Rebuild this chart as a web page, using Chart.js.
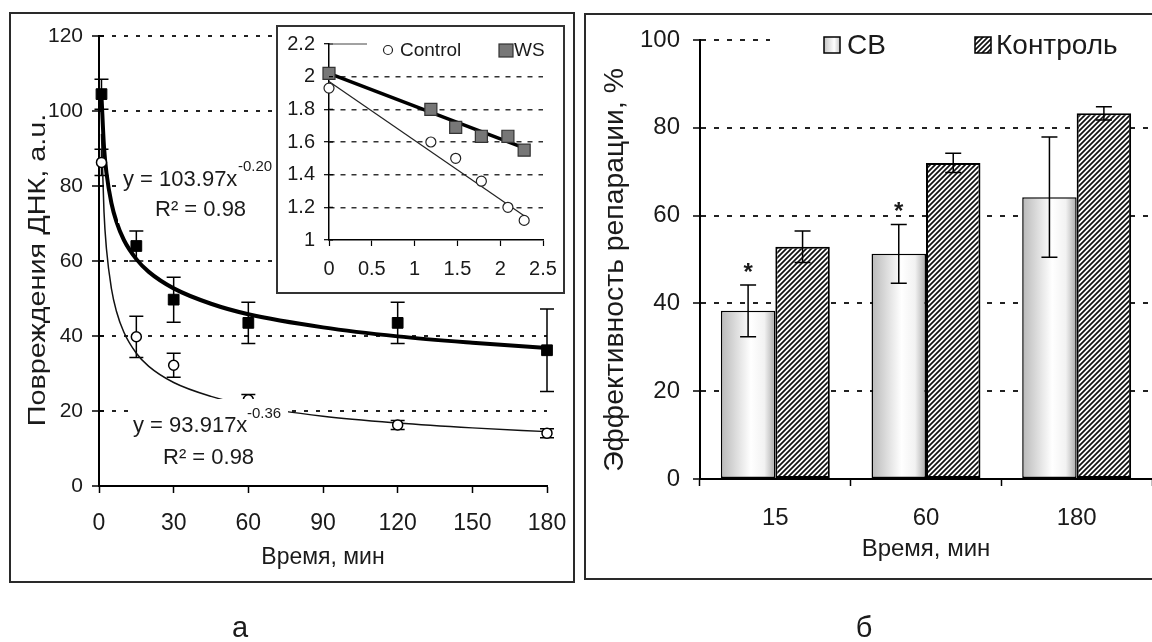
<!DOCTYPE html>
<html><head><meta charset="utf-8">
<script src="https://cdn.jsdelivr.net/npm/chart.js@4.4.1/dist/chart.umd.min.js"></script>
<style>
html,body{margin:0;padding:0;background:#fff;width:1152px;height:642px;overflow:hidden;font-family:'Liberation Sans',Arial,sans-serif;}
.abs{position:absolute;}
#frameA{left:9px;top:12px;width:566px;height:571px;border:2px solid #2a2a2a;box-sizing:border-box;}
#frameB{left:584px;top:13px;width:600px;height:567px;border:2px solid #2a2a2a;border-right:none;box-sizing:border-box;}
#cA{left:0;top:0;}
#cB{left:580px;top:0;}
#inset{left:276px;top:25px;width:289px;height:269px;border:2px solid #333;box-sizing:border-box;background:#fff;}
#cI{position:absolute;left:0;top:0;}
.plabel{font-size:29px;color:#1a1a1a;top:611px;width:40px;text-align:center;}
</style></head>
<body>
<div id="frameA" class="abs"></div>
<div id="frameB" class="abs"></div>
<canvas id="cA" class="abs" width="580" height="642"></canvas>
<canvas id="cB" class="abs" width="572" height="642"></canvas>
<div id="inset" class="abs"><canvas id="cI" width="285" height="265"></canvas></div>
<div class="abs plabel" style="left:220px;">а</div>
<div class="abs plabel" style="left:844px;">б</div>
<script>
// ---------- DATA ----------
// Panel a: DNA damage vs time
const timeMin = [1, 15, 30, 60, 120, 180];
const wsDamage = [104.5, 64.0, 49.7, 43.5, 43.5, 36.2];
const wsErr = [4.0, 4.0, 6.0, 5.5, 5.5, 11.0];
const ctrlDamage = [86.3, 39.8, 32.2, 23.0, 16.3, 14.1];
const ctrlErr = [3.5, 5.5, 3.2, 1.4, 1.2, 1.2];
// trend curves
const fitTime = [1, 2, 3, 5, 7, 10, 15, 20, 30, 45, 60, 90, 120, 150, 180];
const wsFit = [104.0, 90.5, 83.5, 75.4, 70.5, 65.6, 60.5, 57.1, 52.7, 48.6, 45.8, 42.3, 39.9, 38.2, 36.8];
const ctrlFit = [93.9, 73.2, 63.2, 52.6, 46.6, 41.0, 35.4, 31.9, 27.6, 23.9, 21.5, 18.6, 16.8, 15.5, 14.5];
const xTicksA = [0, 30, 60, 90, 120, 150, 180];
// inset (log-log)
const logTime = [0, 1.19, 1.48, 1.78, 2.09, 2.28];
const wsLog = [2.02, 1.80, 1.69, 1.635, 1.635, 1.55];
const ctrlLog = [1.93, 1.60, 1.50, 1.36, 1.20, 1.12];
const wsLogFitX = [0, 2.3];
const wsLogFitY = [2.02, 1.56];
const ctrlLogFitX = [0, 2.33];
const ctrlLogFitY = [1.97, 1.13];
// Panel б: repair efficiency
const repairTimes = ['15', '60', '180'];
const cbEff = [38.3, 51.3, 64.2];
const cbErr = [5.9, 6.7, 13.7];
const ctrlEff = [52.9, 72.0, 83.3];
const ctrlEffErr = [3.6, 2.2, 1.5];
const cbSignif = ['*', '*', ''];

// ---------- COMMON ----------
const FONT = "'Liberation Sans', Arial, Helvetica, sans-serif";
Chart.defaults.font.family = FONT;
Chart.defaults.color = '#1a1a1a';
const TXT = '#1a1a1a';
const plainNum = v => String(Math.round(v * 100) / 100);

function makeHatch(step, lw) {
  const c = document.createElement('canvas'); c.width = step; c.height = step;
  const g = c.getContext('2d');
  g.fillStyle = '#fff'; g.fillRect(0, 0, step, step);
  g.strokeStyle = '#111'; g.lineWidth = lw;
  g.beginPath();
  g.moveTo(-1, step + 1); g.lineTo(step + 1, -1);
  g.moveTo(-2, 2); g.lineTo(2, -2);
  g.moveTo(step - 2, step + 2); g.lineTo(step + 2, step - 2);
  g.stroke();
  return g.createPattern(c, 'repeat');
}
const hatch = makeHatch(5, 1.7);

function vTitle(c, text, cx, cy, size, stretch) {
  c.save();
  c.translate(cx, cy); c.rotate(-Math.PI / 2); c.scale(stretch, 1);
  c.fillStyle = TXT; c.font = size + 'px ' + FONT;
  c.textAlign = 'center'; c.textBaseline = 'middle';
  c.fillText(text, 0, 0);
  c.restore();
}

// ---------- PANEL A ----------
const panelA = {
  id: 'panelA',
  beforeDatasetsDraw(chart) {
    const c = chart.ctx, xs = chart.scales.x, ys = chart.scales.y;
    c.save(); c.strokeStyle = '#000'; c.lineWidth = 1.5;
    const bars = (vals, errs) => vals.forEach((v, i) => {
      const x = xs.getPixelForValue(timeMin[i]);
      const y1 = ys.getPixelForValue(v + errs[i]), y2 = ys.getPixelForValue(v - errs[i]);
      c.beginPath(); c.moveTo(x, y1); c.lineTo(x, y2);
      c.moveTo(x - 7, y1); c.lineTo(x + 7, y1);
      c.moveTo(x - 7, y2); c.lineTo(x + 7, y2); c.stroke();
    });
    bars(wsDamage, wsErr); bars(ctrlDamage, ctrlErr);
    c.restore();
  },
  afterDatasetsDraw(chart) {
    const c = chart.ctx, ys = chart.scales.y, a = chart.chartArea;
    c.save();
    c.strokeStyle = '#000'; c.lineWidth = 1.5;
    ys.ticks.forEach(t => { const y = ys.getPixelForValue(t.value); c.beginPath(); c.moveTo(a.left, y); c.lineTo(a.left + 5, y); c.stroke(); });
    c.fillStyle = '#fff';
    c.fillRect(118, 150, 160, 73);
    c.fillRect(128, 399, 160, 84);
    c.fillStyle = TXT; c.textBaseline = 'alphabetic'; c.textAlign = 'left';
    c.font = '22px ' + FONT; c.fillText('y = 103.97x', 123, 186);
    c.font = '15px ' + FONT; c.fillText('-0.20', 238, 171);
    c.font = '22px ' + FONT; c.fillText('R² = 0.98', 155, 216);
    c.font = '22px ' + FONT; c.fillText('y = 93.917x', 133, 432);
    c.font = '15px ' + FONT; c.fillText('-0.36', 247, 418);
    c.font = '22px ' + FONT; c.fillText('R² = 0.98', 163, 464);
    c.restore();
  },
  afterDraw(chart) {
    vTitle(chart.ctx, 'Повреждения ДНК, а.u.', 38, 270, 24, 1.2);
  }
};

new Chart(document.getElementById('cA'), {
  type: 'scatter',
  data: {
    datasets: [
      { label: 'WS', data: timeMin.map((t, i) => ({ x: t, y: wsDamage[i] })), pointStyle: 'rect', pointRadius: 7.6, backgroundColor: '#000', borderColor: '#000', borderWidth: 1, clip: false },
      { label: 'Control', data: timeMin.map((t, i) => ({ x: t, y: ctrlDamage[i] })), pointStyle: 'circle', pointRadius: 5, backgroundColor: '#fff', borderColor: '#000', borderWidth: 1.5, clip: false },
      { label: 'WS fit', data: fitTime.map((t, i) => ({ x: t, y: wsFit[i] })), showLine: true, pointRadius: 0, borderColor: '#000', borderWidth: 4, cubicInterpolationMode: 'monotone', clip: false },
      { label: 'Control fit', data: fitTime.map((t, i) => ({ x: t, y: ctrlFit[i] })), showLine: true, pointRadius: 0, borderColor: '#111', borderWidth: 1.5, cubicInterpolationMode: 'monotone', clip: false }
    ]
  },
  options: {
    responsive: false, animation: false, devicePixelRatio: 1,
    layout: { padding: { left: 0, top: 36, right: 33, bottom: 71 } },
    plugins: { legend: { display: false }, tooltip: { enabled: false } },
    scales: {
      x: {
        type: 'linear', min: 0, max: 180,
        afterBuildTicks: s => { s.ticks = xTicksA.map(v => ({ value: v })); },
        ticks: { font: { size: 23 }, color: TXT, padding: 17 },
        grid: { drawOnChartArea: false, drawTicks: true, tickLength: 7, color: '#000', tickColor: '#000', tickWidth: 1.5 },
        border: { display: true, color: '#000', width: 2 },
        title: { display: true, text: 'Время, мин', font: { size: 23 }, color: TXT, padding: 0 },
        afterFit: s => { s.height = 85; s.paddingLeft = 0; s.paddingRight = 0; }
      },
      y: {
        min: 0, max: 120,
        ticks: { stepSize: 20, font: { size: 21 }, color: TXT, padding: 9 },
        grid: { color: '#222', lineWidth: 2, tickLength: 7, tickColor: '#000', tickWidth: 1.5, tickBorderDash: [] },
        border: { display: true, color: '#000', width: 2, dash: [4, 8] },
        title: { display: false },
        afterFit: s => { s.width = 99; s.paddingTop = 0; s.paddingBottom = 0; }
      }
    }
  },
  plugins: [panelA]
});

// ---------- INSET ----------
const insetPlug = {
  id: 'insetPlug',
  afterDatasetsDraw(chart) {
    const c = chart.ctx, ys = chart.scales.y, a = chart.chartArea;
    c.save();
    c.strokeStyle = '#000'; c.lineWidth = 1.2;
    ys.ticks.forEach(t => { const y = ys.getPixelForValue(t.value); c.beginPath(); c.moveTo(a.left, y); c.lineTo(a.left + 4, y); c.stroke(); });
    c.strokeStyle = '#444'; c.lineWidth = 1;
    c.beginPath(); c.moveTo(55, 17); c.lineTo(89, 17); c.stroke();
    c.fillStyle = '#fff'; c.strokeStyle = '#222'; c.lineWidth = 1.2;
    c.beginPath(); c.arc(110, 23, 4.5, 0, Math.PI * 2); c.fill(); c.stroke();
    c.fillStyle = '#777'; c.fillRect(221, 17, 14, 13); c.strokeStyle = '#333'; c.strokeRect(221, 17, 14, 13);
    c.fillStyle = TXT; c.font = '19px ' + FONT; c.textBaseline = 'middle'; c.textAlign = 'left';
    c.fillText('Control', 122, 24);
    c.fillText('WS', 236, 24);
    c.restore();
  }
};

new Chart(document.getElementById('cI'), {
  type: 'scatter',
  data: {
    datasets: [
      { label: 'WS', data: logTime.map((x, i) => ({ x, y: wsLog[i] })), pointStyle: 'rect', pointRadius: 8.5, backgroundColor: '#777', borderColor: '#333', borderWidth: 1.2, clip: false },
      { label: 'Control', data: logTime.map((x, i) => ({ x, y: ctrlLog[i] })), pointStyle: 'circle', pointRadius: 5, backgroundColor: '#fff', borderColor: '#222', borderWidth: 1.2, clip: false },
      { label: 'WS fit', data: wsLogFitX.map((x, i) => ({ x, y: wsLogFitY[i] })), showLine: true, pointRadius: 0, borderColor: '#000', borderWidth: 3.5, clip: false },
      { label: 'Control fit', data: ctrlLogFitX.map((x, i) => ({ x, y: ctrlLogFitY[i] })), showLine: true, pointRadius: 0, borderColor: '#222', borderWidth: 1.2, clip: false }
    ]
  },
  options: {
    responsive: false, animation: false, devicePixelRatio: 1,
    layout: { padding: { left: 0, top: 17, right: 20, bottom: 5 } },
    plugins: { legend: { display: false }, tooltip: { enabled: false } },
    scales: {
      x: {
        type: 'linear', min: 0, max: 2.5,
        ticks: { stepSize: 0.5, font: { size: 20 }, color: TXT, padding: 11, callback: plainNum },
        grid: { drawOnChartArea: false, tickLength: 6, color: '#000', tickColor: '#000', tickWidth: 1.2 },
        border: { display: true, color: '#000', width: 1.5 },
        afterFit: s => { s.height = 47; s.paddingLeft = 0; s.paddingRight = 0; }
      },
      y: {
        min: 1, max: 2.2,
        ticks: { stepSize: 0.2, font: { size: 20 }, color: TXT, padding: 9, callback: plainNum },
        grid: {
          color: ctx => (ctx.tick && (Math.abs(ctx.tick.value - 2.2) < 1e-6 || Math.abs(ctx.tick.value - 1) < 1e-6)) ? 'rgba(0,0,0,0)' : '#333',
          lineWidth: 1.4, tickLength: 5, tickColor: '#000', tickWidth: 1.2, tickBorderDash: []
        },
        border: { display: true, color: '#000', width: 1.5, dash: [5, 6] },
        afterFit: s => { s.width = 51; s.paddingTop = 0; s.paddingBottom = 0; }
      }
    }
  },
  plugins: [insetPlug]
});

// ---------- PANEL B ----------
const CAT_PCT = 0.723;
function cbFill(ctx) {
  const chart = ctx.chart, xs = chart.scales.x;
  if (ctx.type !== 'data' || !xs || !xs.width) return '#e6e6e6';
  const center = xs.getPixelForValue(ctx.dataIndex);
  const w = xs.width / repairTimes.length * CAT_PCT / 2;
  const g = chart.ctx.createLinearGradient(center - w, 0, center, 0);
  g.addColorStop(0, '#b9b9b9');
  g.addColorStop(0.55, '#ffffff');
  g.addColorStop(0.8, '#f2f2f2');
  g.addColorStop(1, '#a9a9a9');
  return g;
}

const panelB = {
  id: 'panelB',
  afterDatasetsDraw(chart) {
    const c = chart.ctx, ys = chart.scales.y;
    c.save(); c.strokeStyle = '#000'; c.lineWidth = 1.5;
    const draw = (di, vals, errs) => {
      const meta = chart.getDatasetMeta(di);
      vals.forEach((v, i) => {
        const x = meta.data[i].x;
        const y1 = ys.getPixelForValue(v + errs[i]), y2 = ys.getPixelForValue(v - errs[i]);
        c.beginPath(); c.moveTo(x, y1); c.lineTo(x, y2);
        c.moveTo(x - 8, y1); c.lineTo(x + 8, y1);
        c.moveTo(x - 8, y2); c.lineTo(x + 8, y2); c.stroke();
      });
    };
    draw(0, cbEff, cbErr); draw(1, ctrlEff, ctrlEffErr);
    const m0 = chart.getDatasetMeta(0);
    c.fillStyle = TXT; c.font = 'bold 24px ' + FONT; c.textAlign = 'center'; c.textBaseline = 'middle';
    cbSignif.forEach((s, i) => { if (s) c.fillText(s, m0.data[i].x, ys.getPixelForValue(cbEff[i] + cbErr[i]) - 12); });
    c.fillStyle = '#fff'; c.fillRect(190, 26, 390, 38);
    const lg = c.createLinearGradient(244, 0, 261, 0);
    lg.addColorStop(0, '#c4c4c4'); lg.addColorStop(0.6, '#fff'); lg.addColorStop(1, '#bbb');
    c.fillStyle = lg; c.fillRect(244, 37, 16, 16);
    c.lineWidth = 1.5; c.strokeStyle = '#000'; c.strokeRect(244, 37, 16, 16);
    c.fillStyle = hatch; c.fillRect(395, 37, 16, 16); c.strokeRect(395, 37, 16, 16);
    c.fillStyle = TXT; c.font = '28px ' + FONT; c.textAlign = 'left'; c.textBaseline = 'middle';
    c.fillText('СВ', 267, 46);
    c.fillText('Контроль', 416, 46);
    c.restore();
  },
  afterDraw(chart) {
    vTitle(chart.ctx, 'Эффективность репарации, %', 36, 270, 27, 1.05);
  }
};

new Chart(document.getElementById('cB'), {
  type: 'bar',
  data: {
    labels: repairTimes,
    datasets: [
      { label: 'СВ', data: cbEff, backgroundColor: cbFill, borderColor: '#000', borderWidth: 1.5, borderSkipped: false },
      { label: 'Контроль', data: ctrlEff, backgroundColor: hatch, borderColor: '#000', borderWidth: 2, borderSkipped: false }
    ]
  },
  options: {
    responsive: false, animation: false, devicePixelRatio: 1,
    layout: { padding: { left: 0, top: 40, right: 0, bottom: 78 } },
    datasets: { bar: { categoryPercentage: CAT_PCT, barPercentage: 1 } },
    plugins: { legend: { display: false }, tooltip: { enabled: false } },
    scales: {
      x: {
        ticks: { font: { size: 24 }, color: TXT, padding: 18 },
        grid: { offset: true, drawOnChartArea: false, tickLength: 7, color: '#000', tickColor: '#000', tickWidth: 1.5 },
        border: { display: true, color: '#000', width: 2 },
        title: { display: true, text: 'Время, мин', font: { size: 24 }, color: TXT, padding: 0 },
        afterFit: s => { s.height = 85; s.paddingLeft = 0; s.paddingRight = 0; }
      },
      y: {
        min: 0, max: 100,
        ticks: { stepSize: 20, font: { size: 24 }, color: TXT, padding: 13 },
        grid: { color: '#222', lineWidth: 2, tickLength: 7, tickColor: '#000', tickWidth: 1.5, tickBorderDash: [] },
        border: { display: true, color: '#000', width: 2, dash: [5, 8] },
        title: { display: false },
        afterFit: s => { s.width = 120; s.paddingTop = 0; s.paddingBottom = 0; }
      }
    }
  },
  plugins: [panelB]
});
</script>
</body></html>
